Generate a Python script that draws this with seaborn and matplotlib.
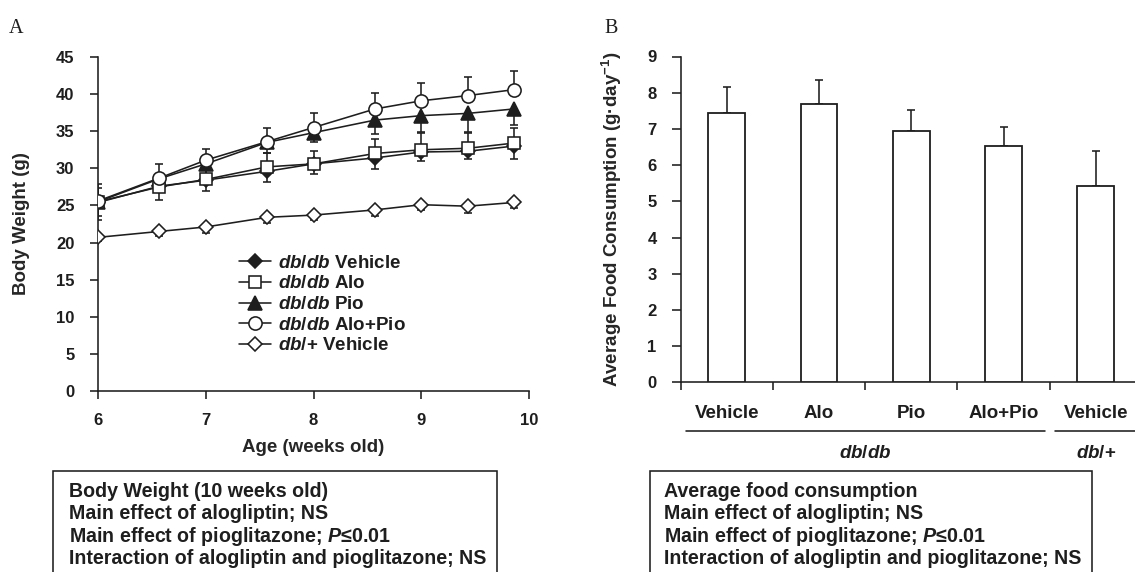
import numpy as np
import pandas as pd
import matplotlib
matplotlib.use("Agg")
import matplotlib.pyplot as plt
import matplotlib.transforms as mtrans
from matplotlib.patches import Rectangle
from matplotlib.lines import Line2D
import seaborn as sns

# ---------------- data ----------------
weeks = [6.0, 6.57, 7.0, 7.57, 8.0, 8.57, 9.0, 9.43, 9.86]

dbdb_vehicle = [25.4, 27.6, 28.4, 29.6, 30.6, 31.4, 32.2, 32.3, 33.0]
dbdb_vehicle_sd = [1.8, 1.8, 1.5, 1.5, 1.4, 1.5, 1.2, 1.1, 1.8]
dbdb_alo = [25.5, 27.5, 28.5, 30.2, 30.6, 32.0, 32.5, 32.7, 33.4]
dbdb_alo_sd = [1.8, 1.6, 1.6, 1.9, 1.8, 1.9, 2.3, 2.1, 2.1]
dbdb_pio = [25.5, 28.6, 30.6, 33.5, 34.8, 36.5, 37.1, 37.4, 38.0]
dbdb_pio_sd = [2.5, 1.8, 1.7, 1.4, 1.3, 1.9, 2.2, 2.5, 2.2]
dbdb_alopio = [25.6, 28.7, 31.1, 33.6, 35.5, 38.0, 39.1, 39.8, 40.6]
dbdb_alopio_sd = [2.3, 1.85, 1.5, 1.9, 1.9, 2.1, 2.4, 2.5, 2.5]
dbplus_vehicle = [20.7, 21.5, 22.1, 23.4, 23.7, 24.4, 25.1, 24.9, 25.4]
dbplus_vehicle_sd = [0.5, 0.6, 0.8, 0.8, 0.6, 0.8, 0.7, 0.9, 0.8]

food_keys = ["dbdb_Vehicle", "dbdb_Alo", "dbdb_Pio", "dbdb_AloPio", "dbplus_Vehicle"]
food_labels = ["Vehicle", "Alo", "Pio", "Alo+Pio", "Vehicle"]
food_mean = [7.45, 7.70, 6.93, 6.52, 5.43]
food_sd = [0.72, 0.64, 0.58, 0.52, 0.97]

legend_labels = [r"$\mathit{db/db}$ Vehicle", r"$\mathit{db/db}$ Alo",
                 r"$\mathit{db/db}$ Pio", r"$\mathit{db/db}$ Alo+Pio",
                 r"$\mathit{db/}$+ Vehicle"]

box_a_lines = ["Body Weight (10 weeks old)", "Main effect of alogliptin; NS",
               r"Main effect of pioglitazone; $\mathit{P}$≤0.01",
               "Interaction of alogliptin and pioglitazone; NS"]
box_b_lines = ["Average food consumption", "Main effect of alogliptin; NS",
               r"Main effect of pioglitazone; $\mathit{P}$≤0.01",
               "Interaction of alogliptin and pioglitazone; NS"]

# ---------------- style ----------------
sns.set_theme(style="ticks")
plt.rcParams["font.family"] = ["Liberation Sans", "DejaVu Sans"]
plt.rcParams["font.weight"] = "bold"
plt.rcParams["axes.labelweight"] = "bold"
plt.rcParams["mathtext.fontset"] = "custom"
plt.rcParams["mathtext.rm"] = "Liberation Sans:bold"
plt.rcParams["mathtext.bf"] = "Liberation Sans:bold"
plt.rcParams["mathtext.it"] = "Liberation Sans:italic:bold"
plt.rcParams["mathtext.sf"] = "Liberation Sans:bold"
INK = "#1e1e1e"
plt.rcParams["text.color"] = INK
plt.rcParams["axes.edgecolor"] = INK
plt.rcParams["xtick.color"] = INK
plt.rcParams["ytick.color"] = INK

W, H = 1135, 572
fig = plt.figure(figsize=(W / 100, H / 100), dpi=100)
fig.patch.set_facecolor("white")


def fx(px):
    return px / W


def fy(py):
    return 1 - py / H


LW = 1.15
TICK_FS = 12
LAB_FS = 13.5

# ---------------- panel A ----------------
A_L, A_R, A_T, A_B = 98, 529, 57, 391
axA = fig.add_axes([fx(A_L), fy(A_B), (A_R - A_L) / W, (A_B - A_T) / H])

series = [
    ("dbplus", dbplus_vehicle, dbplus_vehicle_sd, -1, "D", "white", 7.0),
    ("veh", dbdb_vehicle, dbdb_vehicle_sd, -1, "D", INK, 7.0),
    ("pio", dbdb_pio, dbdb_pio_sd, -1, "^", INK, 9.5),
    ("alo", dbdb_alo, dbdb_alo_sd, 1, "s", "white", 9.0),
    ("alopio", dbdb_alopio, dbdb_alopio_sd, 1, "o", "white", 9.5),
]
z = 3
for name, vals, sd, direction, mk, mfc, ms in series:
    zeros = np.zeros(len(sd))
    yerr = [zeros, np.array(sd)] if direction > 0 else [np.array(sd), zeros]
    axA.errorbar(weeks, vals, yerr=yerr, fmt="none", ecolor=INK, elinewidth=LW,
                 capsize=3.0, capthick=LW, zorder=z)
    sns.lineplot(x=weeks, y=vals, ax=axA, color=INK, linewidth=LW, marker=mk,
                 markersize=ms, markerfacecolor=mfc, markeredgecolor=INK,
                 markeredgewidth=LW, legend=False, zorder=z + 1)
    z += 2

axA.set_xlim(6, 10)
axA.set_ylim(0, 45)
axA.set_xticks([6, 7, 8, 9, 10])
axA.set_yticks(range(0, 46, 5))
sns.despine(ax=axA)
for s in ["left", "bottom"]:
    axA.spines[s].set_linewidth(LW)
axA.tick_params(axis="y", direction="out", length=5.5, width=LW, pad=11.5, labelsize=TICK_FS)
axA.tick_params(axis="x", direction="out", length=5.5, width=LW, pad=10.0, labelsize=TICK_FS)
axA.set_xlabel("Age (weeks old)", fontsize=LAB_FS, fontweight="bold")
axA.set_ylabel("Body Weight (g)", fontsize=LAB_FS, fontweight="bold")
axA.xaxis.set_label_coords(0.5, (A_B - 439.0) / (A_B - A_T))
axA.yaxis.set_label_coords((30.5 - A_L) / (A_R - A_L), 0.5)

legend_styles = [("D", INK, 7.0), ("s", "white", 9.0), ("^", INK, 9.5),
                 ("o", "white", 9.5), ("D", "white", 7.0)]
handles = [Line2D([0], [0], color=INK, lw=LW, marker=m, markersize=s,
                  markerfacecolor=f, markeredgecolor=INK, markeredgewidth=LW)
           for m, f, s in legend_styles]
axA.legend(handles, legend_labels, loc="center left",
           bbox_to_anchor=((238.5 - A_L) / (A_R - A_L), (A_B - 304.5) / (A_B - A_T)),
           frameon=False, borderpad=0, handlelength=1.75, handletextpad=0.35,
           labelspacing=0.19, fontsize=LAB_FS, borderaxespad=0)

# ---------------- panel B ----------------
B_L, B_R, B_T, B_B = 680.6, 1142.0, 56.5, 382.3
axB = fig.add_axes([fx(B_L), fy(B_B), (B_R - B_L) / W, (B_B - B_T) / H])
food_df = pd.DataFrame({"group": food_keys, "mean": food_mean})
sns.barplot(data=food_df, x="group", y="mean", order=food_keys, color="white",
            edgecolor=INK, linewidth=1.3, width=0.40, errorbar=None, ax=axB,
            saturation=1, zorder=3)
xpos = np.arange(len(food_keys))
axB.errorbar(xpos, food_mean, yerr=[np.zeros(5), np.array(food_sd)], fmt="none",
             ecolor=INK, elinewidth=LW, capsize=2.6, capthick=LW, zorder=2)
axB.set_xlim(-0.5, 4.5)
axB.set_ylim(0, 9)
axB.set_yticks(range(0, 10))
axB.set_xticks(np.arange(-0.5, 5.0, 1.0))
axB.set_xticklabels([""] * 6)
axB.set_xlabel("")
sns.despine(ax=axB)
for s in ["left", "bottom"]:
    axB.spines[s].set_linewidth(LW)
axB.tick_params(axis="y", direction="out", length=6.3, width=LW, pad=11.0, labelsize=TICK_FS)
axB.tick_params(axis="x", direction="out", length=6.0, width=LW)
axB.set_ylabel(r"Average Food Consumption (g·day$^{-1}$)", fontsize=LAB_FS, fontweight="bold")
axB.yaxis.set_label_coords((623.8 - B_L) / (B_R - B_L), 0.5)

blend = mtrans.blended_transform_factory(axB.transData, fig.transFigure)
for i, lab in enumerate(food_labels):
    axB.text(i, fy(418.2), lab, transform=blend, ha="center", va="baseline",
             fontsize=LAB_FS, fontweight="bold", clip_on=False)
axB.text(1.5, fy(458.4), r"$\mathit{db/db}$", transform=blend, ha="center",
         va="baseline", fontsize=LAB_FS, clip_on=False)
axB.text(4.0, fy(458.4), r"$\mathit{db/}$+", transform=blend, ha="center",
         va="baseline", fontsize=LAB_FS, fontweight="bold", clip_on=False)

for x0, x1 in [(686, 1045), (1054.5, 1140)]:
    fig.add_artist(Line2D([fx(x0), fx(x1)], [fy(431), fy(431)], color=INK,
                          lw=LW, transform=fig.transFigure))

# ---------------- panel letters ----------------
fig.text(fx(9), fy(33.3), "A", fontsize=14.5, fontweight="normal",
         family="Liberation Serif", ha="left", va="baseline")
fig.text(fx(604), fy(33.3), "B", fontsize=14.5, fontweight="normal",
         family="Liberation Serif", ha="left", va="baseline")

# ---------------- statistics boxes ----------------
BOX_FS = 14.1
for (bx0, bx1, tx, lines) in [(53.3, 496.5, 69.3, box_a_lines),
                              (650.0, 1091.7, 664.3, box_b_lines)]:
    fig.add_artist(Rectangle((fx(bx0), fy(600)), (bx1 - bx0) / W, (600 - 471.2) / H,
                             transform=fig.transFigure, facecolor="none",
                             edgecolor=INK, lw=LW))
    for k, line in enumerate(lines):
        fig.text(fx(tx), fy(497.0 + 22.3 * k), line, fontsize=BOX_FS,
                 fontweight="bold", ha="left", va="baseline")

fig.savefig("out.png", dpi=100, facecolor="white")
